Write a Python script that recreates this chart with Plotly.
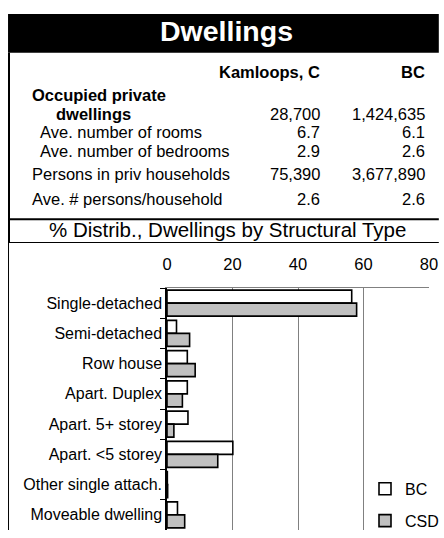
import plotly.graph_objects as go

# ---------------- data ----------------
categories = ["Single-detached", "Semi-detached", "Row house", "Apart. Duplex",
              "Apart. 5+ storey", "Apart. <5 storey", "Other single attach.",
              "Moveable dwelling"]
bc_pct = [56.4, 2.9, 6.2, 6.2, 6.4, 20.1, 0.1, 3.2]
csd_pct = [57.9, 6.9, 8.6, 4.7, 2.1, 15.5, 0.2, 5.4]
x_ticks = [0, 20, 40, 60, 80]

title_text = "Dwellings"
col_headers = ["Kamloops, C", "BC"]
row_labels = ["Occupied private", "dwellings", "Ave. number of rooms",
              "Ave. number of bedrooms", "Persons in priv households",
              "Ave. # persons/household"]
kamloops_vals = ["", "28,700", "6.7", "2.9", "75,390", "2.6"]
bc_vals = ["", "1,424,635", "6.1", "2.6", "3,677,890", "2.6"]
section_title = "% Distrib., Dwellings by Structural Type"
series_names = ["BC", "CSD"]

# ---------------- layout helpers (pixel -> paper) ----------------
W, H = 444, 538
PL, PR, PT, PB = 167, 434, 288, 538
def px(x):
    return (x - PL) / (PR - PL)
def py(y):
    return (PB - y) / (PB - PT)

FONT = "Liberation Sans, Arial, sans-serif"
TF = 16.5  # table font size

fig = go.Figure()
fig.add_trace(go.Bar(y=categories, x=bc_pct, orientation="h", name=series_names[0],
                     marker=dict(color="white", line=dict(color="black", width=1.6)),
                     legendgroup="a"))
fig.add_trace(go.Bar(y=categories, x=csd_pct, orientation="h", name=series_names[1],
                     marker=dict(color="#c0c0c0", line=dict(color="black", width=1.6)),
                     legendgroup="b"))

annotations = []
shapes = []

# title bar
shapes.append(dict(type="rect", xref="paper", yref="paper", x0=px(5), x1=px(444),
                   y0=py(5), y1=py(45), fillcolor="black", line=dict(width=0), layer="above"))
annotations.append(dict(text="<b>" + title_text + "</b>", xref="paper", yref="paper",
                        x=px(228), y=py(22), showarrow=False, xanchor="center", yanchor="middle",
                        font=dict(family=FONT, size=28.5, color="white")))

# column headers
col_right = [325, 432]
for hdr, xr in zip(col_headers, col_right):
    annotations.append(dict(text="<b>" + hdr + "</b>", xref="paper", yref="paper",
                            x=px(xr), y=py(65), showarrow=False, xanchor="right",
                            yanchor="middle", font=dict(family=FONT, size=TF, color="black")))

row_y = [89, 108, 127, 146, 170, 196]
row_x = [27, 52, 36, 36, 27, 27]
for i, lab in enumerate(row_labels):
    txt = "<b>" + lab + "</b>" if i < 2 else lab
    annotations.append(dict(text=txt, xref="paper", yref="paper", x=px(row_x[i]), y=py(row_y[i]),
                            showarrow=False, xanchor="left", yanchor="middle",
                            font=dict(family=FONT, size=TF, color="black")))
    for vals, xr in zip([kamloops_vals, bc_vals], col_right):
        if vals[i]:
            annotations.append(dict(text=vals[i], xref="paper", yref="paper", x=px(xr),
                                    y=py(row_y[i]), showarrow=False, xanchor="right",
                                    yanchor="middle",
                                    font=dict(family=FONT, size=TF, color="black")))

# section header
annotations.append(dict(text=section_title, xref="paper", yref="paper", x=px(229), y=py(228),
                        showarrow=False, xanchor="center", yanchor="middle",
                        font=dict(family=FONT, size=20.5, color="black")))

# frame lines
shapes.append(dict(type="line", xref="paper", yref="paper", x0=px(6), x1=px(6),
                   y0=py(45), y1=py(241), line=dict(color="black", width=2)))
shapes.append(dict(type="line", xref="paper", yref="paper", x0=px(5.5), x1=px(5.5),
                   y0=py(241), y1=py(538), line=dict(color="black", width=1)))
shapes.append(dict(type="line", xref="paper", yref="paper", x0=px(5), x1=px(444),
                   y0=py(217), y1=py(217), line=dict(color="black", width=2)))
shapes.append(dict(type="line", xref="paper", yref="paper", x0=px(5), x1=px(444),
                   y0=py(241), y1=py(241), line=dict(color="black", width=1)))
# darker gridline at 60
shapes.append(dict(type="line", xref="x", yref="paper", x0=x_ticks[3], x1=x_ticks[3],
                   y0=0, y1=1, line=dict(color="black", width=1), layer="below"))

fig.update_layout(
    width=W, height=H,
    margin=dict(l=PL, r=W - PR, t=PT, b=H - PB, pad=0),
    paper_bgcolor="white", plot_bgcolor="white",
    barmode="group", bargap=0.14, bargroupgap=0,
    font=dict(family=FONT, size=16, color="black"),
    showlegend=True,
    legend=dict(x=px(369), y=py(478), xanchor="left", yanchor="top",
                bgcolor="white", borderwidth=0, tracegroupgap=8,
                font=dict(family=FONT, size=16, color="black"),
                itemwidth=30, traceorder="grouped"),
    annotations=annotations, shapes=shapes,
)
fig.update_xaxes(side="top", range=[0, 80], tickvals=x_ticks, showgrid=True,
                 gridcolor="#808080", gridwidth=1, zeroline=False, showline=True,
                 linecolor="#808080", linewidth=1, ticks="", ticklabelstandoff=10,
                 tickfont=dict(family=FONT, size=16.5, color="black"))
fig.update_yaxes(autorange="reversed", type="category", showline=True, linecolor="black",
                 linewidth=1.5, ticks="outside", ticklen=5, tickcolor="black",
                 tickson="boundaries", showgrid=False, zeroline=False,
                 tickfont=dict(family=FONT, size=16, color="black"))

fig.write_html("out.html", config={"displayModeBar": False})

# remove the browser's default body margin so the figure sits at the page origin
with open("out.html", "r", encoding="utf-8") as f:
    html = f.read()
html = html.replace("<head>", "<head><style>html,body{margin:0;padding:0;overflow:hidden;}</style>", 1)
with open("out.html", "w", encoding="utf-8") as f:
    f.write(html)
